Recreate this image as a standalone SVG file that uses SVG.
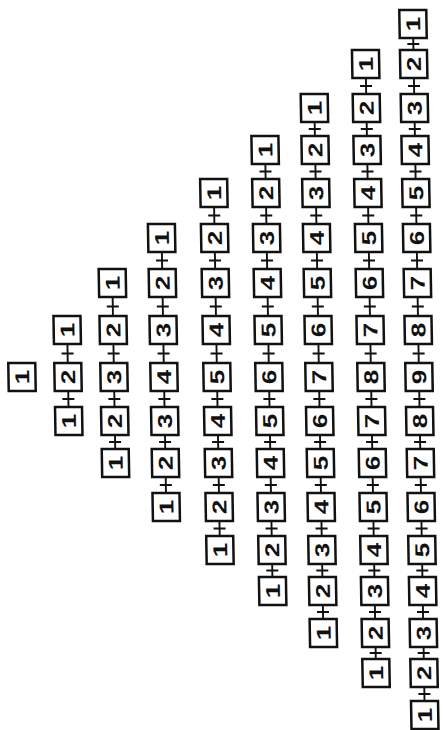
<svg xmlns="http://www.w3.org/2000/svg" width="443" height="730" viewBox="0 0 443 730">
<style>
.n rect{fill:#fff;stroke:#111;stroke-width:2.5}
.n text{font-family:"Liberation Sans",Arial,sans-serif;font-weight:bold;font-size:20px;text-anchor:middle;fill:#111}
#connectors path{fill:none;stroke:#111;stroke-width:1.9}
</style>
<rect width="443" height="730" fill="#fff"/>
<g transform="translate(-6.41 0) skewX(0.974)">
<g id="connectors">
<path d="M68 343.5V363.5M62 353.5H74"/>
<path d="M68 390.5V407.5M62 399H74"/>
<path d="M114 296.5V316.5M108 306.5H120"/>
<path d="M114 343.5V363.5M108 353.5H120"/>
<path d="M114 390.5V407.5M108 399H120"/>
<path d="M114 434.5V449.5M108 442H120"/>
<path d="M164 251.5V269.5M158 260.5H170"/>
<path d="M164 296.5V316.5M158 306.5H170"/>
<path d="M164 343.5V363.5M158 353.5H170"/>
<path d="M164 390.5V407.5M158 399H170"/>
<path d="M164 434.5V449.5M158 442H170"/>
<path d="M164 476.5V493.5M158 485H170"/>
<path d="M217 206.5V224.5M211 215.5H223"/>
<path d="M217 251.5V269.5M211 260.5H223"/>
<path d="M217 296.5V316.5M211 306.5H223"/>
<path d="M217 343.5V363.5M211 353.5H223"/>
<path d="M217 390.5V407.5M211 399H223"/>
<path d="M217 434.5V449.5M211 442H223"/>
<path d="M217 476.5V493.5M211 485H223"/>
<path d="M217 520.5V536.5M211 528.5H223"/>
<path d="M269 163.5V179.5M263 171.5H275"/>
<path d="M269 206.5V224.5M263 215.5H275"/>
<path d="M269 251.5V269.5M263 260.5H275"/>
<path d="M269 296.5V316.5M263 306.5H275"/>
<path d="M269 343.5V363.5M263 353.5H275"/>
<path d="M269 390.5V407.5M263 399H275"/>
<path d="M269 434.5V449.5M263 442H275"/>
<path d="M269 476.5V493.5M263 485H275"/>
<path d="M269 520.5V536.5M263 528.5H275"/>
<path d="M269 563.5V577.5M263 570.5H275"/>
<path d="M319 121.5V136.5M313 129H325"/>
<path d="M319 163.5V179.5M313 171.5H325"/>
<path d="M319 206.5V224.5M313 215.5H325"/>
<path d="M319 251.5V269.5M313 260.5H325"/>
<path d="M319 296.5V316.5M313 306.5H325"/>
<path d="M319 343.5V363.5M313 353.5H325"/>
<path d="M319 390.5V407.5M313 399H325"/>
<path d="M319 434.5V449.5M313 442H325"/>
<path d="M319 476.5V493.5M313 485H325"/>
<path d="M319 520.5V536.5M313 528.5H325"/>
<path d="M319 563.5V577.5M313 570.5H325"/>
<path d="M319 604.5V619.5M313 612H325"/>
<path d="M371 77.5V94.5M365 86H377"/>
<path d="M371 121.5V136.5M365 129H377"/>
<path d="M371 163.5V179.5M365 171.5H377"/>
<path d="M371 206.5V224.5M365 215.5H377"/>
<path d="M371 251.5V269.5M365 260.5H377"/>
<path d="M371 296.5V316.5M365 306.5H377"/>
<path d="M371 343.5V363.5M365 353.5H377"/>
<path d="M371 390.5V407.5M365 399H377"/>
<path d="M371 434.5V449.5M365 442H377"/>
<path d="M371 476.5V493.5M365 485H377"/>
<path d="M371 520.5V536.5M365 528.5H377"/>
<path d="M371 563.5V577.5M365 570.5H377"/>
<path d="M371 604.5V619.5M365 612H377"/>
<path d="M371 646.5V659.5M365 653H377"/>
<path d="M419 37.5V50.5M413 44H425"/>
<path d="M419 77.5V94.5M413 86H425"/>
<path d="M419 121.5V136.5M413 129H425"/>
<path d="M419 163.5V179.5M413 171.5H425"/>
<path d="M419 206.5V224.5M413 215.5H425"/>
<path d="M419 251.5V269.5M413 260.5H425"/>
<path d="M419 296.5V316.5M413 306.5H425"/>
<path d="M419 343.5V363.5M413 353.5H425"/>
<path d="M419 390.5V407.5M413 399H425"/>
<path d="M419 434.5V449.5M413 442H425"/>
<path d="M419 476.5V493.5M413 485H425"/>
<path d="M419 520.5V536.5M413 528.5H425"/>
<path d="M419 563.5V577.5M413 570.5H425"/>
<path d="M419 604.5V619.5M413 612H425"/>
<path d="M419 646.5V659.5M413 653H425"/>
<path d="M419 686.5V701.5M413 694H425"/>
</g>
<g id="nodes">
<g id="c1-1" class="n" transform="translate(22 377)"><rect x="-13.5" y="-14" width="27" height="28"/><text transform="rotate(-90) scale(1.3 1)" y="7.2">1</text></g>

<g id="c2-1" class="n" transform="translate(68 330)"><rect x="-13.5" y="-14" width="27" height="28"/><text transform="rotate(-90) scale(1.3 1)" y="7.2">1</text></g>
<g id="c2-2" class="n" transform="translate(68 377)"><rect x="-13.5" y="-14" width="27" height="28"/><text transform="rotate(-90) scale(1.3 1)" y="7.2">2</text></g>
<g id="c2-3" class="n" transform="translate(68 421)"><rect x="-13.5" y="-14" width="27" height="28"/><text transform="rotate(-90) scale(1.3 1)" y="7.2">1</text></g>

<g id="c3-1" class="n" transform="translate(114 283)"><rect x="-13.5" y="-14" width="27" height="28"/><text transform="rotate(-90) scale(1.3 1)" y="7.2">1</text></g>
<g id="c3-2" class="n" transform="translate(114 330)"><rect x="-13.5" y="-14" width="27" height="28"/><text transform="rotate(-90) scale(1.3 1)" y="7.2">2</text></g>
<g id="c3-3" class="n" transform="translate(114 377)"><rect x="-13.5" y="-14" width="27" height="28"/><text transform="rotate(-90) scale(1.3 1)" y="7.2">3</text></g>
<g id="c3-4" class="n" transform="translate(114 421)"><rect x="-13.5" y="-14" width="27" height="28"/><text transform="rotate(-90) scale(1.3 1)" y="7.2">2</text></g>
<g id="c3-5" class="n" transform="translate(114 463)"><rect x="-13.5" y="-14" width="27" height="28"/><text transform="rotate(-90) scale(1.3 1)" y="7.2">1</text></g>

<g id="c4-1" class="n" transform="translate(164 238)"><rect x="-13.5" y="-14" width="27" height="28"/><text transform="rotate(-90) scale(1.3 1)" y="7.2">1</text></g>
<g id="c4-2" class="n" transform="translate(164 283)"><rect x="-13.5" y="-14" width="27" height="28"/><text transform="rotate(-90) scale(1.3 1)" y="7.2">2</text></g>
<g id="c4-3" class="n" transform="translate(164 330)"><rect x="-13.5" y="-14" width="27" height="28"/><text transform="rotate(-90) scale(1.3 1)" y="7.2">3</text></g>
<g id="c4-4" class="n" transform="translate(164 377)"><rect x="-13.5" y="-14" width="27" height="28"/><text transform="rotate(-90) scale(1.3 1)" y="7.2">4</text></g>
<g id="c4-5" class="n" transform="translate(164 421)"><rect x="-13.5" y="-14" width="27" height="28"/><text transform="rotate(-90) scale(1.3 1)" y="7.2">3</text></g>
<g id="c4-6" class="n" transform="translate(164 463)"><rect x="-13.5" y="-14" width="27" height="28"/><text transform="rotate(-90) scale(1.3 1)" y="7.2">2</text></g>
<g id="c4-7" class="n" transform="translate(164 507)"><rect x="-13.5" y="-14" width="27" height="28"/><text transform="rotate(-90) scale(1.3 1)" y="7.2">1</text></g>

<g id="c5-1" class="n" transform="translate(217 193)"><rect x="-13.5" y="-14" width="27" height="28"/><text transform="rotate(-90) scale(1.3 1)" y="7.2">1</text></g>
<g id="c5-2" class="n" transform="translate(217 238)"><rect x="-13.5" y="-14" width="27" height="28"/><text transform="rotate(-90) scale(1.3 1)" y="7.2">2</text></g>
<g id="c5-3" class="n" transform="translate(217 283)"><rect x="-13.5" y="-14" width="27" height="28"/><text transform="rotate(-90) scale(1.3 1)" y="7.2">3</text></g>
<g id="c5-4" class="n" transform="translate(217 330)"><rect x="-13.5" y="-14" width="27" height="28"/><text transform="rotate(-90) scale(1.3 1)" y="7.2">4</text></g>
<g id="c5-5" class="n" transform="translate(217 377)"><rect x="-13.5" y="-14" width="27" height="28"/><text transform="rotate(-90) scale(1.3 1)" y="7.2">5</text></g>
<g id="c5-6" class="n" transform="translate(217 421)"><rect x="-13.5" y="-14" width="27" height="28"/><text transform="rotate(-90) scale(1.3 1)" y="7.2">4</text></g>
<g id="c5-7" class="n" transform="translate(217 463)"><rect x="-13.5" y="-14" width="27" height="28"/><text transform="rotate(-90) scale(1.3 1)" y="7.2">3</text></g>
<g id="c5-8" class="n" transform="translate(217 507)"><rect x="-13.5" y="-14" width="27" height="28"/><text transform="rotate(-90) scale(1.3 1)" y="7.2">2</text></g>
<g id="c5-9" class="n" transform="translate(217 550)"><rect x="-13.5" y="-14" width="27" height="28"/><text transform="rotate(-90) scale(1.3 1)" y="7.2">1</text></g>

<g id="c6-1" class="n" transform="translate(269 150)"><rect x="-13.5" y="-14" width="27" height="28"/><text transform="rotate(-90) scale(1.3 1)" y="7.2">1</text></g>
<g id="c6-2" class="n" transform="translate(269 193)"><rect x="-13.5" y="-14" width="27" height="28"/><text transform="rotate(-90) scale(1.3 1)" y="7.2">2</text></g>
<g id="c6-3" class="n" transform="translate(269 238)"><rect x="-13.5" y="-14" width="27" height="28"/><text transform="rotate(-90) scale(1.3 1)" y="7.2">3</text></g>
<g id="c6-4" class="n" transform="translate(269 283)"><rect x="-13.5" y="-14" width="27" height="28"/><text transform="rotate(-90) scale(1.3 1)" y="7.2">4</text></g>
<g id="c6-5" class="n" transform="translate(269 330)"><rect x="-13.5" y="-14" width="27" height="28"/><text transform="rotate(-90) scale(1.3 1)" y="7.2">5</text></g>
<g id="c6-6" class="n" transform="translate(269 377)"><rect x="-13.5" y="-14" width="27" height="28"/><text transform="rotate(-90) scale(1.3 1)" y="7.2">6</text></g>
<g id="c6-7" class="n" transform="translate(269 421)"><rect x="-13.5" y="-14" width="27" height="28"/><text transform="rotate(-90) scale(1.3 1)" y="7.2">5</text></g>
<g id="c6-8" class="n" transform="translate(269 463)"><rect x="-13.5" y="-14" width="27" height="28"/><text transform="rotate(-90) scale(1.3 1)" y="7.2">4</text></g>
<g id="c6-9" class="n" transform="translate(269 507)"><rect x="-13.5" y="-14" width="27" height="28"/><text transform="rotate(-90) scale(1.3 1)" y="7.2">3</text></g>
<g id="c6-10" class="n" transform="translate(269 550)"><rect x="-13.5" y="-14" width="27" height="28"/><text transform="rotate(-90) scale(1.3 1)" y="7.2">2</text></g>
<g id="c6-11" class="n" transform="translate(269 591)"><rect x="-13.5" y="-14" width="27" height="28"/><text transform="rotate(-90) scale(1.3 1)" y="7.2">1</text></g>

<g id="c7-1" class="n" transform="translate(319 108)"><rect x="-13.5" y="-14" width="27" height="28"/><text transform="rotate(-90) scale(1.3 1)" y="7.2">1</text></g>
<g id="c7-2" class="n" transform="translate(319 150)"><rect x="-13.5" y="-14" width="27" height="28"/><text transform="rotate(-90) scale(1.3 1)" y="7.2">2</text></g>
<g id="c7-3" class="n" transform="translate(319 193)"><rect x="-13.5" y="-14" width="27" height="28"/><text transform="rotate(-90) scale(1.3 1)" y="7.2">3</text></g>
<g id="c7-4" class="n" transform="translate(319 238)"><rect x="-13.5" y="-14" width="27" height="28"/><text transform="rotate(-90) scale(1.3 1)" y="7.2">4</text></g>
<g id="c7-5" class="n" transform="translate(319 283)"><rect x="-13.5" y="-14" width="27" height="28"/><text transform="rotate(-90) scale(1.3 1)" y="7.2">5</text></g>
<g id="c7-6" class="n" transform="translate(319 330)"><rect x="-13.5" y="-14" width="27" height="28"/><text transform="rotate(-90) scale(1.3 1)" y="7.2">6</text></g>
<g id="c7-7" class="n" transform="translate(319 377)"><rect x="-13.5" y="-14" width="27" height="28"/><text transform="rotate(-90) scale(1.3 1)" y="7.2">7</text></g>
<g id="c7-8" class="n" transform="translate(319 421)"><rect x="-13.5" y="-14" width="27" height="28"/><text transform="rotate(-90) scale(1.3 1)" y="7.2">6</text></g>
<g id="c7-9" class="n" transform="translate(319 463)"><rect x="-13.5" y="-14" width="27" height="28"/><text transform="rotate(-90) scale(1.3 1)" y="7.2">5</text></g>
<g id="c7-10" class="n" transform="translate(319 507)"><rect x="-13.5" y="-14" width="27" height="28"/><text transform="rotate(-90) scale(1.3 1)" y="7.2">4</text></g>
<g id="c7-11" class="n" transform="translate(319 550)"><rect x="-13.5" y="-14" width="27" height="28"/><text transform="rotate(-90) scale(1.3 1)" y="7.2">3</text></g>
<g id="c7-12" class="n" transform="translate(319 591)"><rect x="-13.5" y="-14" width="27" height="28"/><text transform="rotate(-90) scale(1.3 1)" y="7.2">2</text></g>
<g id="c7-13" class="n" transform="translate(319 633)"><rect x="-13.5" y="-14" width="27" height="28"/><text transform="rotate(-90) scale(1.3 1)" y="7.2">1</text></g>

<g id="c8-1" class="n" transform="translate(371 64)"><rect x="-13.5" y="-14" width="27" height="28"/><text transform="rotate(-90) scale(1.3 1)" y="7.2">1</text></g>
<g id="c8-2" class="n" transform="translate(371 108)"><rect x="-13.5" y="-14" width="27" height="28"/><text transform="rotate(-90) scale(1.3 1)" y="7.2">2</text></g>
<g id="c8-3" class="n" transform="translate(371 150)"><rect x="-13.5" y="-14" width="27" height="28"/><text transform="rotate(-90) scale(1.3 1)" y="7.2">3</text></g>
<g id="c8-4" class="n" transform="translate(371 193)"><rect x="-13.5" y="-14" width="27" height="28"/><text transform="rotate(-90) scale(1.3 1)" y="7.2">4</text></g>
<g id="c8-5" class="n" transform="translate(371 238)"><rect x="-13.5" y="-14" width="27" height="28"/><text transform="rotate(-90) scale(1.3 1)" y="7.2">5</text></g>
<g id="c8-6" class="n" transform="translate(371 283)"><rect x="-13.5" y="-14" width="27" height="28"/><text transform="rotate(-90) scale(1.3 1)" y="7.2">6</text></g>
<g id="c8-7" class="n" transform="translate(371 330)"><rect x="-13.5" y="-14" width="27" height="28"/><text transform="rotate(-90) scale(1.3 1)" y="7.2">7</text></g>
<g id="c8-8" class="n" transform="translate(371 377)"><rect x="-13.5" y="-14" width="27" height="28"/><text transform="rotate(-90) scale(1.3 1)" y="7.2">8</text></g>
<g id="c8-9" class="n" transform="translate(371 421)"><rect x="-13.5" y="-14" width="27" height="28"/><text transform="rotate(-90) scale(1.3 1)" y="7.2">7</text></g>
<g id="c8-10" class="n" transform="translate(371 463)"><rect x="-13.5" y="-14" width="27" height="28"/><text transform="rotate(-90) scale(1.3 1)" y="7.2">6</text></g>
<g id="c8-11" class="n" transform="translate(371 507)"><rect x="-13.5" y="-14" width="27" height="28"/><text transform="rotate(-90) scale(1.3 1)" y="7.2">5</text></g>
<g id="c8-12" class="n" transform="translate(371 550)"><rect x="-13.5" y="-14" width="27" height="28"/><text transform="rotate(-90) scale(1.3 1)" y="7.2">4</text></g>
<g id="c8-13" class="n" transform="translate(371 591)"><rect x="-13.5" y="-14" width="27" height="28"/><text transform="rotate(-90) scale(1.3 1)" y="7.2">3</text></g>
<g id="c8-14" class="n" transform="translate(371 633)"><rect x="-13.5" y="-14" width="27" height="28"/><text transform="rotate(-90) scale(1.3 1)" y="7.2">2</text></g>
<g id="c8-15" class="n" transform="translate(371 673)"><rect x="-13.5" y="-14" width="27" height="28"/><text transform="rotate(-90) scale(1.3 1)" y="7.2">1</text></g>

<g id="c9-1" class="n" transform="translate(419 24)"><rect x="-13.5" y="-14" width="27" height="28"/><text transform="rotate(-90) scale(1.3 1)" y="7.2">1</text></g>
<g id="c9-2" class="n" transform="translate(419 64)"><rect x="-13.5" y="-14" width="27" height="28"/><text transform="rotate(-90) scale(1.3 1)" y="7.2">2</text></g>
<g id="c9-3" class="n" transform="translate(419 108)"><rect x="-13.5" y="-14" width="27" height="28"/><text transform="rotate(-90) scale(1.3 1)" y="7.2">3</text></g>
<g id="c9-4" class="n" transform="translate(419 150)"><rect x="-13.5" y="-14" width="27" height="28"/><text transform="rotate(-90) scale(1.3 1)" y="7.2">4</text></g>
<g id="c9-5" class="n" transform="translate(419 193)"><rect x="-13.5" y="-14" width="27" height="28"/><text transform="rotate(-90) scale(1.3 1)" y="7.2">5</text></g>
<g id="c9-6" class="n" transform="translate(419 238)"><rect x="-13.5" y="-14" width="27" height="28"/><text transform="rotate(-90) scale(1.3 1)" y="7.2">6</text></g>
<g id="c9-7" class="n" transform="translate(419 283)"><rect x="-13.5" y="-14" width="27" height="28"/><text transform="rotate(-90) scale(1.3 1)" y="7.2">7</text></g>
<g id="c9-8" class="n" transform="translate(419 330)"><rect x="-13.5" y="-14" width="27" height="28"/><text transform="rotate(-90) scale(1.3 1)" y="7.2">8</text></g>
<g id="c9-9" class="n" transform="translate(419 377)"><rect x="-13.5" y="-14" width="27" height="28"/><text transform="rotate(-90) scale(1.3 1)" y="7.2">9</text></g>
<g id="c9-10" class="n" transform="translate(419 421)"><rect x="-13.5" y="-14" width="27" height="28"/><text transform="rotate(-90) scale(1.3 1)" y="7.2">8</text></g>
<g id="c9-11" class="n" transform="translate(419 463)"><rect x="-13.5" y="-14" width="27" height="28"/><text transform="rotate(-90) scale(1.3 1)" y="7.2">7</text></g>
<g id="c9-12" class="n" transform="translate(419 507)"><rect x="-13.5" y="-14" width="27" height="28"/><text transform="rotate(-90) scale(1.3 1)" y="7.2">6</text></g>
<g id="c9-13" class="n" transform="translate(419 550)"><rect x="-13.5" y="-14" width="27" height="28"/><text transform="rotate(-90) scale(1.3 1)" y="7.2">5</text></g>
<g id="c9-14" class="n" transform="translate(419 591)"><rect x="-13.5" y="-14" width="27" height="28"/><text transform="rotate(-90) scale(1.3 1)" y="7.2">4</text></g>
<g id="c9-15" class="n" transform="translate(419 633)"><rect x="-13.5" y="-14" width="27" height="28"/><text transform="rotate(-90) scale(1.3 1)" y="7.2">3</text></g>
<g id="c9-16" class="n" transform="translate(419 673)"><rect x="-13.5" y="-14" width="27" height="28"/><text transform="rotate(-90) scale(1.3 1)" y="7.2">2</text></g>
<g id="c9-17" class="n" transform="translate(419 715)"><rect x="-13.5" y="-14" width="27" height="28"/><text transform="rotate(-90) scale(1.3 1)" y="7.2">1</text></g>
</g>
</g>
</svg>
